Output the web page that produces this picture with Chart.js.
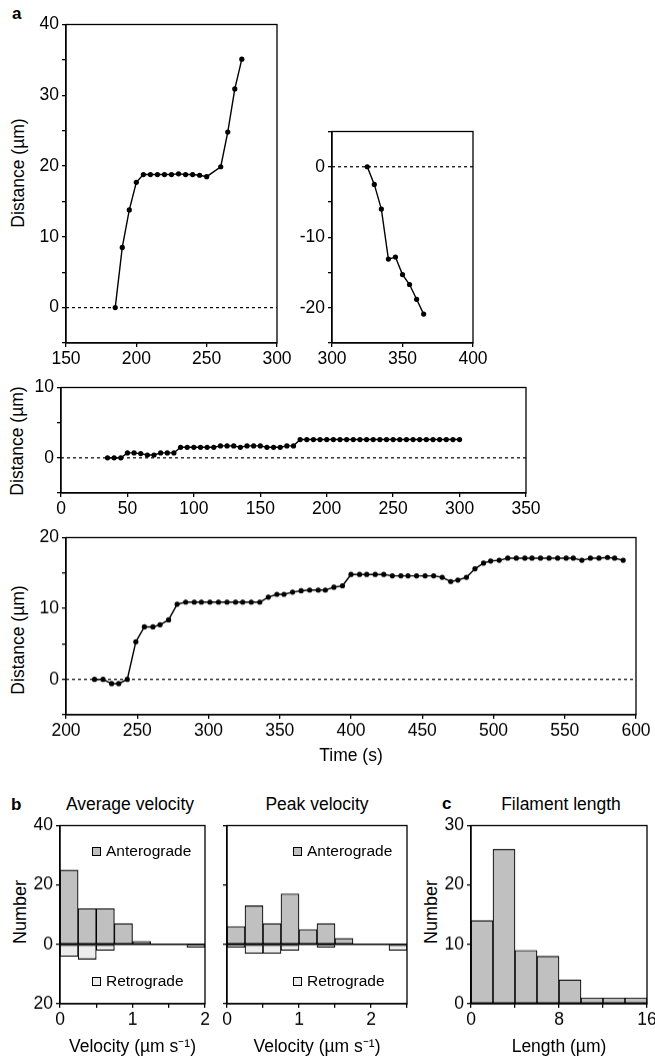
<!DOCTYPE html>
<html>
<head>
<meta charset="utf-8">
<script src="https://cdn.jsdelivr.net/npm/chart.js@4.4.0/dist/chart.umd.min.js"></script>
<style>
  body { margin: 0; background: #fff; width: 655px; height: 1057px; position: relative; overflow: hidden;
         font-family: "Liberation Sans", Arial, Helvetica, sans-serif; color: #000; }
  .box { position: absolute; }
  .txt { position: absolute; white-space: nowrap; line-height: 20px; font-size: 17.5px; }
  .ttl { transform: translateX(-50%); }
  .letter { font-weight: bold; font-size: 17px; }
  .vt { transform: translate(-50%, -50%) rotate(-90deg); }
  .leg { font-size: 15.5px; line-height: 18px; }
  .sw { position: absolute; width: 9px; height: 9px; box-sizing: border-box; border: 1.3px solid #000; }
</style>
</head>
<body>
<div class="txt letter" style="left:12px;top:4px">a</div>
<div class="txt letter" style="left:11px;top:795px">b</div>
<div class="txt letter" style="left:442px;top:794px">c</div>
<div class="txt ttl" style="left:130px;top:794px">Average velocity</div>
<div class="txt ttl" style="left:317px;top:794px">Peak velocity</div>
<div class="txt ttl" style="left:561px;top:794px">Filament length</div>

<div class="txt vt" style="left:17.5px;top:173px">Distance (µm)</div>
<div class="txt vt" style="left:16.5px;top:441px">Distance (µm)</div>
<div class="txt vt" style="left:17.5px;top:640px">Distance (µm)</div>
<div class="txt vt" style="left:20px;top:912px;font-size:18px">Number</div>
<div class="txt vt" style="left:431px;top:912px;font-size:18px">Number</div>

<script>
// ---- panel a: distance vs time traces ----
const t1 = [185, 190, 195, 200, 205, 210, 215, 220, 225, 230, 235, 240, 245, 250, 260, 265, 270, 275];
const d1 = [0, 8.5, 13.8, 17.7, 18.8, 18.8, 18.8, 18.8, 18.8, 18.9, 18.8, 18.8, 18.7, 18.5, 19.9, 24.8, 30.9, 35.1];

const t2 = [325, 330, 335, 340, 345, 350, 355, 360, 365];
const d2 = [0, -2.5, -6.0, -13.1, -12.8, -15.3, -16.7, -18.8, -20.9];

const t3 = [35, 40, 45, 50, 55, 60, 65, 70, 75, 80, 85, 90, 95, 100, 105, 110, 115, 120, 125, 130,
            135, 140, 145, 150, 155, 160, 165, 170, 175, 180, 185, 190, 195, 200, 205, 210, 215, 220,
            225, 230, 235, 240, 245, 250, 255, 260, 265, 270, 275, 280, 285, 290, 295, 300];
const d3 = [0, 0, 0, 0.7, 0.7, 0.6, 0.4, 0.4, 0.7, 0.7, 0.7, 1.5, 1.5, 1.5, 1.5, 1.5, 1.5, 1.7, 1.7, 1.7,
            1.5, 1.7, 1.7, 1.7, 1.5, 1.5, 1.5, 1.7, 1.7, 2.6, 2.6, 2.6, 2.6, 2.6, 2.6, 2.6, 2.6, 2.6,
            2.6, 2.6, 2.6, 2.6, 2.6, 2.6, 2.6, 2.6, 2.6, 2.6, 2.6, 2.6, 2.6, 2.6, 2.6, 2.6];

const t4 = [220, 226, 232, 237, 243, 249, 255, 261, 266, 272, 278, 284, 290, 295, 301, 307, 313, 319, 324, 330,
            336, 342, 348, 353, 359, 365, 371, 377, 382, 388, 394, 400, 406, 411, 417, 423, 429, 435, 440, 446,
            452, 458, 464, 470, 475, 481, 487, 493, 498, 504, 510, 516, 522, 527, 533, 539, 545, 551, 556, 562,
            568, 574, 580, 585, 591];
const d4 = [0, 0, -0.6, -0.6, 0, 5.3, 7.4, 7.4, 7.7, 8.4, 10.6, 10.9, 10.9, 10.9, 10.9, 10.9, 10.9, 10.9, 10.9, 10.9,
            10.9, 11.6, 12.0, 12.0, 12.3, 12.5, 12.6, 12.6, 12.6, 13.0, 13.2, 14.8, 14.8, 14.8, 14.8, 14.8, 14.6, 14.6, 14.6, 14.6,
            14.6, 14.6, 14.4, 13.8, 14.0, 14.4, 15.6, 16.4, 16.7, 16.8, 17.1, 17.1, 17.1, 17.1, 17.1, 17.1, 17.1, 17.1, 17.1, 16.8,
            17.1, 17.1, 17.2, 17.1, 16.8];

// ---- panel b: velocity histograms (bin centres, counts) ----
const avgBins = [0.125, 0.375, 0.625, 0.875, 1.125, 1.375, 1.625, 1.875];
const avgAntero = [25, 12, 12, 7, 1, 0, 0, 0];
const avgRetro = [4, 5, 2, 0, 0, 0, 0, 1];

const peakBins = [0.125, 0.375, 0.625, 0.875, 1.125, 1.375, 1.625, 1.875, 2.125, 2.375];
const peakAntero = [6, 13, 7, 17, 5, 7, 2, 0, 0, 0];
const peakRetro = [1, 3, 3, 2, 0, 1, 0, 0, 0, 2];

// ---- panel c: filament length ----
const lenBins = [1, 3, 5, 7, 9, 11, 13, 15];
const lenCounts = [14, 26, 9, 8, 4, 1, 1, 1];

Chart.defaults.font.family = '"Liberation Sans", Arial, Helvetica, sans-serif';
Chart.defaults.font.size = 17.5;
Chart.defaults.color = '#000';
Chart.defaults.animation = false;

const INK = '#000';
const PAD_T = 12, PAD_R = 22;

// box drawn on all four sides of the plot area
const framePlugin = {
  id: 'frame',
  afterDraw(chart) {
    const { ctx, chartArea: a } = chart;
    ctx.save();
    ctx.strokeStyle = INK;
    ctx.lineWidth = 1.3;
    ctx.strokeRect(a.left, a.top, a.right - a.left, a.bottom - a.top);
    ctx.restore();
  }
};

// line at y = 0: dotted under the traces, solid over the histograms
function zeroAt(chart, width, dash) {
  const { ctx, chartArea: a } = chart;
  const y = chart.scales.y.getPixelForValue(0);
  ctx.save();
  ctx.strokeStyle = INK;
  ctx.lineWidth = width;
  ctx.setLineDash(dash);
  ctx.beginPath();
  ctx.moveTo(a.left, y);
  ctx.lineTo(a.right, y);
  ctx.stroke();
  ctx.restore();
}

const zeroLinePlugin = {
  id: 'zeroLine',
  beforeDatasetsDraw(chart, args, opts) {
    if (opts && opts.under) zeroAt(chart, 1.2, [3, 3]);
  },
  afterDatasetsDraw(chart, args, opts) {
    if (opts && opts.show) zeroAt(chart, 1.5, []);
  }
};

// put a canvas so that the chart area lands on [l, t, r, b]
function place(area, yw, xh) {
  const [l, t, r, b] = area;
  const div = document.createElement('div');
  div.className = 'box';
  div.style.left = (l - yw) + 'px';
  div.style.top = (t - PAD_T) + 'px';
  div.style.width = (r - l + yw + PAD_R) + 'px';
  div.style.height = (b - t + PAD_T + xh) + 'px';
  const c = document.createElement('canvas');
  div.appendChild(c);
  document.body.appendChild(div);
  return c;
}

function onEvery(step, fmt) {
  return v => (Math.abs(v / step - Math.round(v / step)) < 1e-6 ? fmt(v) : '');
}

function axisX(min, max, step, labelStep, xh, title) {
  return {
    type: 'linear', min, max, offset: false, stacked: true,
    afterFit: s => { s.height = xh; },
    grid: { drawOnChartArea: false, tickLength: 4, color: INK, lineWidth: 1.3, offset: false },
    border: { color: INK, width: 1.3 },
    ticks: { stepSize: step, autoSkip: false, maxRotation: 0, padding: 2,
             callback: onEvery(labelStep, v => String(v)) },
    title: title ? { display: true, text: title, padding: { top: 0, bottom: 0 } } : { display: false }
  };
}

function axisY(min, max, step, labelStep, yw, fmt) {
  return {
    type: 'linear', min, max, stacked: true,
    afterFit: s => { s.width = yw; },
    grid: { drawOnChartArea: false, tickLength: 4, color: INK, lineWidth: 1.3 },
    border: { color: INK, width: 1.3 },
    ticks: { stepSize: step, autoSkip: false, padding: 3,
             callback: labelStep ? onEvery(labelStep, fmt || (v => String(v))) : () => '' }
  };
}

function trace(area, xs, ys, x, y) {
  new Chart(place(area, 40, x.xh), {
    type: 'line',
    data: {
      datasets: [{
        data: xs.map((v, i) => ({ x: v, y: ys[i] })),
        borderColor: INK, borderWidth: 1.4, tension: 0,
        pointRadius: 2.6, pointBackgroundColor: INK, pointBorderWidth: 0, pointHoverRadius: 0
      }]
    },
    options: {
      responsive: true, maintainAspectRatio: false, events: [],
      layout: { padding: { top: PAD_T, right: PAD_R, left: 0, bottom: 0 } },
      scales: { x: axisX(x.min, x.max, x.step, x.step, x.xh, x.title), y: axisY(y.min, y.max, 5, 10, 40) },
      plugins: { legend: { display: false }, tooltip: { enabled: false }, zeroLine: { under: true } }
    },
    plugins: [framePlugin, zeroLinePlugin]
  });
}

trace([66, 23, 277, 343], t1, d1, { min: 150, max: 300, step: 50, xh: 30 }, { min: -5, max: 40 });
trace([332, 130, 473, 343], t2, d2, { min: 300, max: 400, step: 50, xh: 30 }, { min: -25, max: 5 });
trace([61, 386, 526, 493], t3, d3, { min: 0, max: 350, step: 50, xh: 30 }, { min: -5, max: 10 });
trace([66, 536, 636, 714], t4, d4, { min: 200, max: 600, step: 50, xh: 51.5, title: 'Time (s)' }, { min: -5, max: 20 });

const ANT = '#c0c0c0', RET = '#ececec';

function bars(bins, counts, fill, sign) {
  return {
    data: bins.map((b, i) => ({ x: b, y: sign * counts[i] })),
    backgroundColor: fill, borderColor: INK, borderWidth: 1.1, borderSkipped: false,
    barPercentage: 1, categoryPercentage: 1
  };
}

function histogram(area, yw, datasets, x, y, zero) {
  new Chart(place(area, yw, 53.5), {
    type: 'bar',
    data: { datasets },
    options: {
      responsive: true, maintainAspectRatio: false, events: [],
      layout: { padding: { top: PAD_T, right: PAD_R, left: 0, bottom: 0 } },
      scales: { x: axisX(x.min, x.max, x.step, x.labelStep, 53.5, x.title), y: y },
      plugins: { legend: { display: false }, tooltip: { enabled: false }, zeroLine: { show: zero } }
    },
    plugins: [framePlugin, zeroLinePlugin]
  });
}

const VEL = 'Velocity (µm s⁻¹)';
histogram([60, 824, 205, 1003], 40,
  [bars(avgBins, avgAntero, ANT, 1), bars(avgBins, avgRetro, RET, -1)],
  { min: 0, max: 2, step: 0.5, labelStep: 1, title: VEL },
  axisY(-20, 40, 20, 20, 40, v => String(Math.abs(v))), true);

histogram([227, 824, 407, 1003], 20,
  [bars(peakBins, peakAntero, ANT, 1), bars(peakBins, peakRetro, RET, -1)],
  { min: 0, max: 2.5, step: 0.5, labelStep: 1, title: VEL },
  axisY(-20, 40, 20, 0, 20), true);

histogram([471, 824, 647, 1003], 40,
  [bars(lenBins, lenCounts, ANT, 1)],
  { min: 0, max: 16, step: 4, labelStep: 8, title: 'Length (µm)' },
  axisY(0, 30, 10, 10, 40), false);

// in-plot keys for the velocity histograms
function key(x, y, fill, text) {
  const sw = document.createElement('span');
  sw.className = 'sw';
  sw.style.left = x + 'px';
  sw.style.top = (y - 4.5) + 'px';
  sw.style.background = fill;
  document.body.appendChild(sw);
  const t = document.createElement('div');
  t.className = 'txt leg';
  t.style.left = (x + 14) + 'px';
  t.style.top = (y - 9) + 'px';
  t.textContent = text;
  document.body.appendChild(t);
}
key(92, 851, ANT, 'Anterograde');
key(92, 981, RET, 'Retrograde');
key(293, 851, ANT, 'Anterograde');
key(293, 981, RET, 'Retrograde');
</script>
</body>
</html>
